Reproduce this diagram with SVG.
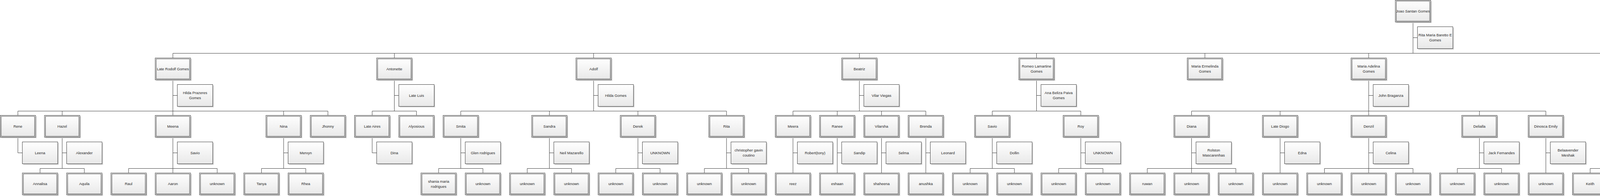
<svg xmlns="http://www.w3.org/2000/svg" width="7010" height="502" viewBox="0 0 7010 502">
<style>
.c{fill:none;stroke:#3b3b3b;stroke-width:1}
.o{fill:url(#g);stroke:#3b3b3b;stroke-width:1}
.i{fill:none;stroke:#3b3b3b;stroke-width:1}
.sh{fill:#d2d2d2}
text{font-family:"Liberation Sans",Arial,sans-serif;font-size:9.5px;fill:#262626;text-anchor:middle}
</style>
<defs>
<linearGradient id="g" x1="0" y1="0" x2="0" y2="1"><stop offset="0" stop-color="#ffffff"/><stop offset="1" stop-color="#e8e8e8"/></linearGradient>
<g id="P"><rect class="sh" x="2.5" y="2.5" width="90.6" height="56"/><rect class="o" x="0" y="0" width="90.6" height="56"/><rect class="i" x="2.6" y="2.4" width="85.4" height="51.2"/></g>
<g id="S"><rect class="sh" x="2.5" y="2.5" width="90.6" height="56"/><rect class="o" x="0" y="0" width="90.6" height="56"/></g>
</defs>
<rect width="7010" height="502" fill="#ffffff"/>
<g id="connectors" class="c">
<path d="M3617.3 56.5V136.5M3617.3 96.5H3628.7M442.6 136.5H6791.9"/>
<path d="M442.6 136.5V148.5M1009.5 136.5V148.5M1519.7 136.5V148.5M2200 136.5V148.5M2653.5 136.5V148.5M3084.6 136.5V148.5M3503.9 136.5V148.5M4354.2 136.5V148.5M4694.4 136.5V148.5M4977.8 136.5V148.5M5374.7 136.5V148.5M5601.4 136.5V148.5M5828.2 136.5V148.5M6054.9 136.5V148.5M6281.7 136.5V148.5M6508.5 136.5V148.5M6791.9 136.5V148.5"/>
<path d="M442.6 204.5V295.5M442.6 244.5H454M45.8 295.5V284.5H839.5V295.5M159.2 284.5V295.5M726.1 284.5V295.5"/>
<path d="M1009.5 204.5V284.5M1009.5 244.5H1020.9M952.8 295.5V284.5H1066.2V295.5"/>
<path d="M1519.7 204.5V284.5M1519.7 244.5H1531.1M1179.6 295.5V284.5H1859.9V295.5M1406.4 284.5V295.5M1633.1 284.5V295.5"/>
<path d="M2200 204.5V284.5M2200 244.5H2211.4M2030 295.5V284.5H2370.1V295.5M2143.3 284.5V295.5M2256.7 284.5V295.5"/>
<path d="M2653.5 204.5V284.5M2653.5 244.5H2664.9M2540.2 295.5V284.5H2766.9V295.5"/>
<path d="M3503.9 204.5V295.5M3503.9 244.5H3515.3M3050.4 295.5V284.5H3957.4V295.5M3277.1 284.5V295.5M3787.3 284.5V295.5"/>
<path d="M4354.2 204.5V284.5M4354.2 244.5H4365.6M4184.2 295.5V284.5H4524.3V295.5M4410.9 284.5V295.5"/>
<path d="M4694.4 204.5V284.5M4694.4 244.5H4705.8M4637.7 295.5V284.5H4751.1V295.5"/>
<path d="M4977.8 204.5V284.5M4977.8 244.5H4989.2M4864.5 295.5V284.5H5091.2V295.5"/>
<path d="M5374.7 204.5V284.5M5374.7 244.5H5386.1M5318 295.5V284.5H5431.4V295.5"/>
<path d="M5601.4 204.5V284.5M5601.4 244.5H5612.8M5544.7 295.5V284.5H5658.1V295.5"/>
<path d="M5828.2 204.5V284.5M5828.2 244.5H5839.6M5771.5 295.5V284.5H5884.9V295.5"/>
<path d="M6054.9 204.5V284.5M6054.9 244.5H6066.3M5998.3 295.5V284.5H6111.6V295.5"/>
<path d="M6281.7 204.5V284.5M6281.7 244.5H6293.1M6225 295.5V284.5H6338.4V295.5"/>
<path d="M6508.5 204.5V284.5M6508.5 244.5H6519.8M6451.8 295.5V284.5H6565.1V295.5"/>
<path d="M6791.9 204.5V295.5M6791.9 244.5H6803.3M6678.5 295.5V284.5H6905.3V295.5"/>
<path d="M45.8 351.5V391.5H57.2"/>
<path d="M159.2 351.5V431.5M159.2 391.5H170.6M102.5 443V431.5H215.9V443"/>
<path d="M442.6 351.5V443M442.6 391.5H454M329.2 443V431.5H556V443"/>
<path d="M726.1 351.5V431.5M726.1 391.5H737.5M669.4 443V431.5H782.8V443"/>
<path d="M952.8 351.5V391.5H964.2"/>
<path d="M1179.6 351.5V431.5M1179.6 391.5H1191M1122.9 443V431.5H1236.3V443"/>
<path d="M1406.4 351.5V431.5M1406.4 391.5H1417.8M1349.7 443V431.5H1463.1V443"/>
<path d="M1633.1 351.5V431.5M1633.1 391.5H1644.5M1576.4 443V431.5H1689.8V443"/>
<path d="M1859.9 351.5V431.5M1859.9 391.5H1871.3M1803.2 443V431.5H1916.6V443"/>
<path d="M2030 351.5V443M2030 391.5H2041.3"/>
<path d="M2143.3 351.5V443M2143.3 391.5H2154.7"/>
<path d="M2256.7 351.5V443M2256.7 391.5H2268.1"/>
<path d="M2370.1 351.5V443M2370.1 391.5H2381.5"/>
<path d="M2540.2 351.5V431.5M2540.2 391.5H2551.6M2483.5 443V431.5H2596.9V443"/>
<path d="M2766.9 351.5V431.5M2766.9 391.5H2778.3M2710.2 443V431.5H2823.6V443"/>
<path d="M3050.4 351.5V443M3050.4 391.5H3061.8M2937 443V431.5H3163.8V443"/>
<path d="M3277.1 351.5V443M3277.1 391.5H3288.5"/>
<path d="M3503.9 351.5V443M3503.9 391.5H3515.3M3390.5 443V431.5H3617.3V443"/>
<path d="M3787.3 351.5V431.5M3787.3 391.5H3798.7M3730.7 443V431.5H3844V443"/>
<path d="M3957.4 351.5V443M3957.4 391.5H3968.8"/>
<path d="M4184.2 351.5V443M4184.2 391.5H4195.6M4070.8 443V431.5H4297.6V443"/>
<path d="M4410.9 351.5V443M4410.9 391.5H4422.3"/>
<path d="M4524.3 351.5V391.5H4535.7"/>
<path d="M4864.5 351.5V431.5M4864.5 391.5H4875.8M4807.8 443V431.5H4921.1V443"/>
<path d="M5091.2 351.5V431.5M5091.2 391.5H5102.6M5034.5 443V431.5H5147.9V443"/>
<path d="M5318 351.5V431.5M5318 391.5H5329.4M5261.3 443V431.5H5374.7V443"/>
<path d="M5771.5 351.5V431.5M5771.5 391.5H5782.9M5714.8 443V431.5H5828.2V443"/>
<path d="M5998.3 351.5V443M5998.3 391.5H6009.6"/>
<path d="M6565.1 351.5V391.5H6576.5"/>
<path d="M6678.5 351.5V431.5M6678.5 391.5H6689.9M6621.8 443V431.5H6735.2V443"/>
<path d="M6791.9 351.5V391.5H6803.3"/>
<path d="M6905.3 351.5V443M6905.3 391.5H6916.7"/>
</g>
<g id="n-joao-santan-gomes" transform="translate(3572,0.5)"><use href="#P"/><text x="45.3" y="31.4">Joao Santan Gomes</text></g>
<g id="s-rita-maria-baretto" transform="translate(3628.7,68.5)"><use href="#S"/><text x="45.3" y="24.9">Rita Maria Baretto E<tspan x="45.3" dy="13">Gomes</tspan></text></g>
<g id="n-late-rodolf" transform="translate(397.3,148.5)"><use href="#P"/><text x="45.3" y="31.4">Late Rodolf Gomes</text></g>
<g id="s-hilda-prazeres" transform="translate(454,216.5)"><use href="#S"/><text x="45.3" y="24.9">Hilda Prazeres<tspan x="45.3" dy="13">Gomes</tspan></text></g>
<g id="n-antonette" transform="translate(964.2,148.5)"><use href="#P"/><text x="45.3" y="31.4">Antonette</text></g>
<g id="s-late-luis" transform="translate(1020.9,216.5)"><use href="#S"/><text x="45.3" y="31.4">Late Luis</text></g>
<g id="n-adolf" transform="translate(1474.4,148.5)"><use href="#P"/><text x="45.3" y="31.4">Adolf</text></g>
<g id="s-hilda-gomes" transform="translate(1531.1,216.5)"><use href="#S"/><text x="45.3" y="31.4">Hilda Gomes</text></g>
<g id="n-beatriz" transform="translate(2154.7,148.5)"><use href="#P"/><text x="45.3" y="31.4">Beatriz</text></g>
<g id="s-vilar-viegas" transform="translate(2211.4,216.5)"><use href="#S"/><text x="45.3" y="31.4">Vilar Viegas</text></g>
<g id="n-romeo" transform="translate(2608.2,148.5)"><use href="#P"/><text x="45.3" y="24.9">Romeo Lamartine<tspan x="45.3" dy="13">Gomes</tspan></text></g>
<g id="s-ana-beliza" transform="translate(2664.9,216.5)"><use href="#S"/><text x="45.3" y="24.9">Ana Beliza Paiva<tspan x="45.3" dy="13">Gomes</tspan></text></g>
<g id="n-maria-ermelinda" transform="translate(3039.3,148.5)"><use href="#P"/><text x="45.3" y="24.9">Maria Ermelinda<tspan x="45.3" dy="13">Gomes</tspan></text></g>
<g id="n-maria-adelina" transform="translate(3458.6,148.5)"><use href="#P"/><text x="45.3" y="24.9">Maria Adelina<tspan x="45.3" dy="13">Gomes</tspan></text></g>
<g id="s-john-braganza" transform="translate(3515.3,216.5)"><use href="#S"/><text x="45.3" y="31.4">John Braganza</text></g>
<g id="n-late-elvira" transform="translate(4308.9,148.5)"><use href="#P"/><text x="45.3" y="31.4">Late Elvira Gomes</text></g>
<g id="s-late-venac" transform="translate(4365.6,216.5)"><use href="#S"/><text x="45.3" y="31.4">Late Venac Prazeres</text></g>
<g id="n-late-joao-jr" transform="translate(4649.1,148.5)"><use href="#P"/><text x="45.3" y="31.4">Late Joao Santan Jr.</text></g>
<g id="s-marcia-almeida" transform="translate(4705.8,216.5)"><use href="#S"/><text x="45.3" y="31.4">Marcia Almeida</text></g>
<g id="n-late-antonio-rosario" transform="translate(4932.5,148.5)"><use href="#P"/><text x="45.3" y="24.9">Late Antonio<tspan x="45.3" dy="13">Rosario L.</tspan></text></g>
<g id="s-maria-olivette" transform="translate(4989.2,216.5)"><use href="#S"/><text x="45.3" y="24.9">Maria Olivette<tspan x="45.3" dy="13">Gomes</tspan></text></g>
<g id="n-antonio-oliveira" transform="translate(5329.4,148.5)"><use href="#P"/><text x="45.3" y="24.9">Antonio Oliveira<tspan x="45.3" dy="13">Gomes</tspan></text></g>
<g id="s-jessica-almeida" transform="translate(5386.1,216.5)"><use href="#S"/><text x="45.3" y="24.9">Jessica Almeida<tspan x="45.3" dy="13">Gomes</tspan></text></g>
<g id="n-late-roldao" transform="translate(5556.1,148.5)"><use href="#P"/><text x="45.3" y="24.9">Late Roldao Dos<tspan x="45.3" dy="13">Martries Gomes</tspan></text></g>
<g id="s-delia-diase" transform="translate(5612.8,216.5)"><use href="#S"/><text x="45.3" y="31.4">Delia Diase Gomes</text></g>
<g id="n-julieta" transform="translate(5782.9,148.5)"><use href="#P"/><text x="45.3" y="18.4">Julieta Filomena<tspan x="45.3" dy="13">Dos Martries</tspan><tspan x="45.3" dy="13">Gomes</tspan></text></g>
<g id="s-conceicao" transform="translate(5839.6,216.5)"><use href="#S"/><text x="45.3" y="24.9">Conceicao<tspan x="45.3" dy="13">D'Almeida</tspan></text></g>
<g id="n-juliao" transform="translate(6009.6,148.5)"><use href="#P"/><text x="45.3" y="24.9">Juliao Dos Martries<tspan x="45.3" dy="13">Gomes</tspan></text></g>
<g id="s-maria-elizabeth" transform="translate(6066.3,216.5)"><use href="#S"/><text x="45.3" y="24.9">Maria Elizabeth<tspan x="45.3" dy="13">(Flavy) Fernandes</tspan></text></g>
<g id="n-tomas-robert" transform="translate(6236.4,148.5)"><use href="#P"/><text x="45.3" y="24.9">Tomas Robert<tspan x="45.3" dy="13">Gomes</tspan></text></g>
<g id="s-audrey-gama" transform="translate(6293.1,216.5)"><use href="#S"/><text x="45.3" y="31.4">Audrey Gama</text></g>
<g id="n-late-armando" transform="translate(6463.2,148.5)"><use href="#P"/><text x="45.3" y="24.9">Late Armando R<tspan x="45.3" dy="13">Gomes</tspan></text></g>
<g id="s-rosaria-fernandes" transform="translate(6519.8,216.5)"><use href="#S"/><text x="45.3" y="31.4">Rosaria Fernandes</text></g>
<g id="n-maria-clara" transform="translate(6746.6,148.5)"><use href="#P"/><text x="45.3" y="31.4">Maria Clara</text></g>
<g id="s-joe-dsouza" transform="translate(6803.3,216.5)"><use href="#S"/><text x="45.3" y="31.4">Joe D'Souza</text></g>
<g id="n-rene" transform="translate(0.5,295.5)"><use href="#P"/><text x="45.3" y="31.4">Rene</text></g>
<g id="s-leena" transform="translate(57.2,363.5)"><use href="#S"/><text x="45.3" y="31.4">Leena</text></g>
<g id="n-hazel" transform="translate(113.9,295.5)"><use href="#P"/><text x="45.3" y="31.4">Hazel</text></g>
<g id="s-alexander" transform="translate(170.6,363.5)"><use href="#S"/><text x="45.3" y="31.4">Alexander</text></g>
<g id="n-annalisa" transform="translate(57.2,443)"><use href="#P"/><text x="45.3" y="31.4">Annalisa</text></g>
<g id="n-aquila" transform="translate(170.6,443)"><use href="#P"/><text x="45.3" y="31.4">Aquila</text></g>
<g id="n-meena" transform="translate(397.3,295.5)"><use href="#P"/><text x="45.3" y="31.4">Meena</text></g>
<g id="s-savio-1" transform="translate(454,363.5)"><use href="#S"/><text x="45.3" y="31.4">Savio</text></g>
<g id="n-raul" transform="translate(283.9,443)"><use href="#P"/><text x="45.3" y="31.4">Raul</text></g>
<g id="n-aaron" transform="translate(397.3,443)"><use href="#P"/><text x="45.3" y="31.4">Aaron</text></g>
<g id="n-unknown-1" transform="translate(510.7,443)"><use href="#P"/><text x="45.3" y="31.4">unknown</text></g>
<g id="n-nina" transform="translate(680.8,295.5)"><use href="#P"/><text x="45.3" y="31.4">Nina</text></g>
<g id="s-mervyn" transform="translate(737.5,363.5)"><use href="#S"/><text x="45.3" y="31.4">Mervyn</text></g>
<g id="n-tanya" transform="translate(624.1,443)"><use href="#P"/><text x="45.3" y="31.4">Tanya</text></g>
<g id="n-rhea" transform="translate(737.5,443)"><use href="#P"/><text x="45.3" y="31.4">Rhea</text></g>
<g id="n-jhonny" transform="translate(794.2,295.5)"><use href="#P"/><text x="45.3" y="31.4">Jhonny</text></g>
<g id="n-late-aires" transform="translate(907.5,295.5)"><use href="#P"/><text x="45.3" y="31.4">Late Aires</text></g>
<g id="s-dina" transform="translate(964.2,363.5)"><use href="#S"/><text x="45.3" y="31.4">Dina</text></g>
<g id="n-alyosious" transform="translate(1020.9,295.5)"><use href="#P"/><text x="45.3" y="31.4">Alyosious</text></g>
<g id="n-smita" transform="translate(1134.3,295.5)"><use href="#P"/><text x="45.3" y="31.4">Smita</text></g>
<g id="s-glen" transform="translate(1191,363.5)"><use href="#S"/><text x="45.3" y="31.4">Glen rodrigues</text></g>
<g id="n-shania" transform="translate(1077.6,443)"><use href="#P"/><text x="45.3" y="24.9">shania maria<tspan x="45.3" dy="13">rodrigues</tspan></text></g>
<g id="n-unknown-2" transform="translate(1191,443)"><use href="#P"/><text x="45.3" y="31.4">unknown</text></g>
<g id="n-sandra" transform="translate(1361.1,295.5)"><use href="#P"/><text x="45.3" y="31.4">Sandra</text></g>
<g id="s-neil" transform="translate(1417.8,363.5)"><use href="#S"/><text x="45.3" y="31.4">Neil Mazarello</text></g>
<g id="n-unknown-3" transform="translate(1304.4,443)"><use href="#P"/><text x="45.3" y="31.4">unknown</text></g>
<g id="n-unknown-4" transform="translate(1417.8,443)"><use href="#P"/><text x="45.3" y="31.4">unknown</text></g>
<g id="n-derek" transform="translate(1587.8,295.5)"><use href="#P"/><text x="45.3" y="31.4">Derek</text></g>
<g id="s-unknown-derek" transform="translate(1644.5,363.5)"><use href="#S"/><text x="45.3" y="31.4">UNKNOWN</text></g>
<g id="n-unknown-5" transform="translate(1531.1,443)"><use href="#P"/><text x="45.3" y="31.4">unknown</text></g>
<g id="n-unknown-6" transform="translate(1644.5,443)"><use href="#P"/><text x="45.3" y="31.4">unknown</text></g>
<g id="n-rita" transform="translate(1814.6,295.5)"><use href="#P"/><text x="45.3" y="31.4">Rita</text></g>
<g id="s-christopher" transform="translate(1871.3,363.5)"><use href="#S"/><text x="45.3" y="24.9">christopher gavin<tspan x="45.3" dy="13">coutino</tspan></text></g>
<g id="n-unknown-7" transform="translate(1757.9,443)"><use href="#P"/><text x="45.3" y="31.4">unknown</text></g>
<g id="n-unknown-8" transform="translate(1871.3,443)"><use href="#P"/><text x="45.3" y="31.4">unknown</text></g>
<g id="n-meera" transform="translate(1984.7,295.5)"><use href="#P"/><text x="45.3" y="31.4">Meera</text></g>
<g id="s-robert" transform="translate(2041.3,363.5)"><use href="#S"/><text x="45.3" y="31.4">Robert(tony)</text></g>
<g id="n-reez" transform="translate(1984.7,443)"><use href="#P"/><text x="45.3" y="31.4">reez</text></g>
<g id="n-ranee" transform="translate(2098,295.5)"><use href="#P"/><text x="45.3" y="31.4">Ranee</text></g>
<g id="s-sandip" transform="translate(2154.7,363.5)"><use href="#S"/><text x="45.3" y="31.4">Sandip</text></g>
<g id="n-eshaan" transform="translate(2098,443)"><use href="#P"/><text x="45.3" y="31.4">eshaan</text></g>
<g id="n-vilarsha" transform="translate(2211.4,295.5)"><use href="#P"/><text x="45.3" y="31.4">Vilarsha</text></g>
<g id="s-selma" transform="translate(2268.1,363.5)"><use href="#S"/><text x="45.3" y="31.4">Selma</text></g>
<g id="n-shaheena" transform="translate(2211.4,443)"><use href="#P"/><text x="45.3" y="31.4">shaheena</text></g>
<g id="n-brenda" transform="translate(2324.8,295.5)"><use href="#P"/><text x="45.3" y="31.4">Brenda</text></g>
<g id="s-leonard" transform="translate(2381.5,363.5)"><use href="#S"/><text x="45.3" y="31.4">Leonard</text></g>
<g id="n-anushka" transform="translate(2324.8,443)"><use href="#P"/><text x="45.3" y="31.4">anushka</text></g>
<g id="n-savio-2" transform="translate(2494.9,295.5)"><use href="#P"/><text x="45.3" y="31.4">Savio</text></g>
<g id="s-dollin" transform="translate(2551.6,363.5)"><use href="#S"/><text x="45.3" y="31.4">Dollin</text></g>
<g id="n-unknown-9" transform="translate(2438.2,443)"><use href="#P"/><text x="45.3" y="31.4">unknown</text></g>
<g id="n-unknown-10" transform="translate(2551.6,443)"><use href="#P"/><text x="45.3" y="31.4">unknown</text></g>
<g id="n-roy" transform="translate(2721.6,295.5)"><use href="#P"/><text x="45.3" y="31.4">Roy</text></g>
<g id="s-unknown-roy" transform="translate(2778.3,363.5)"><use href="#S"/><text x="45.3" y="31.4">UNKNOWN</text></g>
<g id="n-unknown-11" transform="translate(2664.9,443)"><use href="#P"/><text x="45.3" y="31.4">unknown</text></g>
<g id="n-unknown-12" transform="translate(2778.3,443)"><use href="#P"/><text x="45.3" y="31.4">unknown</text></g>
<g id="n-diana" transform="translate(3005.1,295.5)"><use href="#P"/><text x="45.3" y="31.4">Diana</text></g>
<g id="s-rolston" transform="translate(3061.8,363.5)"><use href="#S"/><text x="45.3" y="24.9">Rolston<tspan x="45.3" dy="13">Mascarenhas</tspan></text></g>
<g id="n-ruwan" transform="translate(2891.7,443)"><use href="#P"/><text x="45.3" y="31.4">ruwan</text></g>
<g id="n-unknown-13" transform="translate(3005.1,443)"><use href="#P"/><text x="45.3" y="31.4">unknown</text></g>
<g id="n-unknown-14" transform="translate(3118.5,443)"><use href="#P"/><text x="45.3" y="31.4">unknown</text></g>
<g id="n-late-diogo" transform="translate(3231.8,295.5)"><use href="#P"/><text x="45.3" y="31.4">Late Diogo</text></g>
<g id="s-edna" transform="translate(3288.5,363.5)"><use href="#S"/><text x="45.3" y="31.4">Edna</text></g>
<g id="n-unknown-15" transform="translate(3231.8,443)"><use href="#P"/><text x="45.3" y="31.4">unknown</text></g>
<g id="n-denzil" transform="translate(3458.6,295.5)"><use href="#P"/><text x="45.3" y="31.4">Denzil</text></g>
<g id="s-celina" transform="translate(3515.3,363.5)"><use href="#S"/><text x="45.3" y="31.4">Celina</text></g>
<g id="n-unknown-16" transform="translate(3345.2,443)"><use href="#P"/><text x="45.3" y="31.4">unknown</text></g>
<g id="n-unknown-17" transform="translate(3458.6,443)"><use href="#P"/><text x="45.3" y="31.4">unknown</text></g>
<g id="n-unknown-18" transform="translate(3572,443)"><use href="#P"/><text x="45.3" y="31.4">unknown</text></g>
<g id="n-delialla" transform="translate(3742,295.5)"><use href="#P"/><text x="45.3" y="31.4">Delialla</text></g>
<g id="s-jack" transform="translate(3798.7,363.5)"><use href="#S"/><text x="45.3" y="31.4">Jack Fernandes</text></g>
<g id="n-unknown-19" transform="translate(3685.4,443)"><use href="#P"/><text x="45.3" y="31.4">unknown</text></g>
<g id="n-unknown-20" transform="translate(3798.7,443)"><use href="#P"/><text x="45.3" y="31.4">unknown</text></g>
<g id="n-dinosca" transform="translate(3912.1,295.5)"><use href="#P"/><text x="45.3" y="31.4">Dinosca Emily</text></g>
<g id="s-belaavender" transform="translate(3968.8,363.5)"><use href="#S"/><text x="45.3" y="24.9">Belaavender<tspan x="45.3" dy="13">Meshak</tspan></text></g>
<g id="n-unknown-21" transform="translate(3912.1,443)"><use href="#P"/><text x="45.3" y="31.4">unknown</text></g>
<g id="n-vilma" transform="translate(4138.9,295.5)"><use href="#P"/><text x="45.3" y="31.4">Vilma</text></g>
<g id="s-saluzinh" transform="translate(4195.6,363.5)"><use href="#S"/><text x="45.3" y="31.4">Saluzinh</text></g>
<g id="n-keith" transform="translate(4025.5,443)"><use href="#P"/><text x="45.3" y="31.4">Keith</text></g>
<g id="n-liya" transform="translate(4138.9,443)"><use href="#P"/><text x="45.3" y="31.4">Liya</text></g>
<g id="n-kurt" transform="translate(4252.3,443)"><use href="#P"/><text x="45.3" y="31.4">Kurt</text></g>
<g id="n-evita" transform="translate(4365.6,295.5)"><use href="#P"/><text x="45.3" y="31.4">Evita</text></g>
<g id="s-kevin" transform="translate(4422.3,363.5)"><use href="#S"/><text x="45.3" y="31.4">Kevin</text></g>
<g id="n-deanne" transform="translate(4365.6,443)"><use href="#P"/><text x="45.3" y="31.4">Deanne</text></g>
<g id="n-albert" transform="translate(4479,295.5)"><use href="#P"/><text x="45.3" y="31.4">Albert</text></g>
<g id="s-ciafa" transform="translate(4535.7,363.5)"><use href="#S"/><text x="45.3" y="31.4">ciafa</text></g>
<g id="n-late-sam" transform="translate(4592.4,295.5)"><use href="#P"/><text x="45.3" y="31.4">Late Sam</text></g>
<g id="n-schubert" transform="translate(4705.8,295.5)"><use href="#P"/><text x="45.3" y="31.4">Schubert</text></g>
<g id="n-malcom" transform="translate(4819.2,295.5)"><use href="#P"/><text x="45.3" y="31.4">Malcom</text></g>
<g id="s-unknown-malcom" transform="translate(4875.8,363.5)"><use href="#S"/><text x="45.3" y="31.4">unknown</text></g>
<g id="n-unknown-22" transform="translate(4762.5,443)"><use href="#P"/><text x="45.3" y="31.4">unknown</text></g>
<g id="n-unknown-23" transform="translate(4875.8,443)"><use href="#P"/><text x="45.3" y="31.4">unknown</text></g>
<g id="n-lincoln" transform="translate(5045.9,295.5)"><use href="#P"/><text x="45.3" y="31.4">Lincoln</text></g>
<g id="s-anita" transform="translate(5102.6,363.5)"><use href="#S"/><text x="45.3" y="31.4">Anita</text></g>
<g id="n-unknown-24" transform="translate(4989.2,443)"><use href="#P"/><text x="45.3" y="31.4">unknown</text></g>
<g id="n-unknown-25" transform="translate(5102.6,443)"><use href="#P"/><text x="45.3" y="31.4">unknown</text></g>
<g id="n-cheryl" transform="translate(5272.7,295.5)"><use href="#P"/><text x="45.3" y="31.4">Cheryl</text></g>
<g id="s-unknown-cheryl" transform="translate(5329.4,363.5)"><use href="#S"/><text x="45.3" y="31.4">unknown</text></g>
<g id="n-unknown-26" transform="translate(5216,443)"><use href="#P"/><text x="45.3" y="31.4">unknown</text></g>
<g id="n-unknown-27" transform="translate(5329.4,443)"><use href="#P"/><text x="45.3" y="31.4">unknown</text></g>
<g id="n-lyndon" transform="translate(5386.1,295.5)"><use href="#P"/><text x="45.3" y="31.4">Lyndon</text></g>
<g id="n-royston" transform="translate(5499.4,295.5)"><use href="#P"/><text x="45.3" y="31.4">Royston</text></g>
<g id="n-reagan" transform="translate(5612.8,295.5)"><use href="#P"/><text x="45.3" y="31.4">Reagan</text></g>
<g id="n-julio" transform="translate(5726.2,295.5)"><use href="#P"/><text x="45.3" y="31.4">Julio D'Almeida</text></g>
<g id="s-brenda-rodrigues" transform="translate(5782.9,363.5)"><use href="#S"/><text x="45.3" y="24.9">Brenda Rodrigues<tspan x="45.3" dy="13">Cana</tspan></text></g>
<g id="n-janine" transform="translate(5669.5,443)"><use href="#P"/><text x="45.3" y="31.4">Janine D'Almeida</text></g>
<g id="n-brooke" transform="translate(5782.9,443)"><use href="#P"/><text x="45.3" y="31.4">Brooke D'Almeida</text></g>
<g id="n-ambica" transform="translate(5839.6,295.5)"><use href="#P"/><text x="45.3" y="31.4">Ambica D'Almeida</text></g>
<g id="n-ryan" transform="translate(5953,295.5)"><use href="#P"/><text x="45.3" y="31.4">Ryan</text></g>
<g id="s-reshma" transform="translate(6009.6,363.5)"><use href="#S"/><text x="45.3" y="31.4">Reshma</text></g>
<g id="n-hana" transform="translate(5953,443)"><use href="#P"/><text x="45.3" y="31.4">Hana Amara</text></g>
<g id="n-rymer" transform="translate(6066.3,295.5)"><use href="#P"/><text x="45.3" y="31.4">Rymer</text></g>
<g id="n-donna" transform="translate(6179.7,295.5)"><use href="#P"/><text x="45.3" y="31.4">Donna</text></g>
<g id="n-ransley" transform="translate(6293.1,295.5)"><use href="#P"/><text x="45.3" y="31.4">Ransley</text></g>
<g id="n-sneden" transform="translate(6406.5,295.5)"><use href="#P"/><text x="45.3" y="31.4">Sneden</text></g>
<g id="n-amanda" transform="translate(6519.8,295.5)"><use href="#P"/><text x="45.3" y="31.4">Amanda</text></g>
<g id="s-ned" transform="translate(6576.5,363.5)"><use href="#S"/><text x="45.3" y="31.4">Ned</text></g>
<g id="n-rommel" transform="translate(6633.2,295.5)"><use href="#P"/><text x="45.3" y="31.4">Rommel</text></g>
<g id="s-olivia" transform="translate(6689.9,363.5)"><use href="#S"/><text x="45.3" y="31.4">Olivia</text></g>
<g id="n-reuel" transform="translate(6576.5,443)"><use href="#P"/><text x="45.3" y="24.9">Reuel Ethan<tspan x="45.3" dy="13">D'souza</tspan></text></g>
<g id="n-rosh" transform="translate(6689.9,443)"><use href="#P"/><text x="45.3" y="31.4">Rosh</text></g>
<g id="n-russel" transform="translate(6746.6,295.5)"><use href="#P"/><text x="45.3" y="31.4">Russel</text></g>
<g id="s-manuella" transform="translate(6803.3,363.5)"><use href="#S"/><text x="45.3" y="31.4">Manuella</text></g>
<g id="n-rowena" transform="translate(6860,295.5)"><use href="#P"/><text x="45.3" y="31.4">Rowena</text></g>
<g id="s-roger" transform="translate(6916.7,363.5)"><use href="#S"/><text x="45.3" y="31.4">Roger</text></g>
<g id="n-zach" transform="translate(6860,443)"><use href="#P"/><text x="45.3" y="24.9">Zach Nathan<tspan x="45.3" dy="13">Pereira</tspan></text></g>
</svg>
